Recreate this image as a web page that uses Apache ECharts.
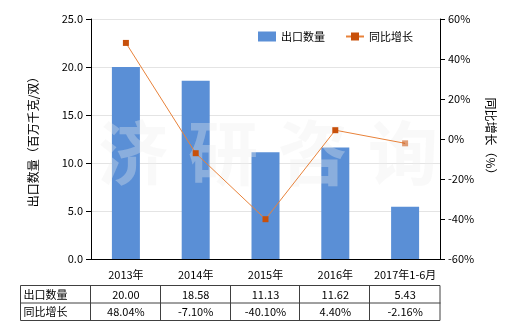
<!DOCTYPE html>
<html><head><meta charset="utf-8">
<script src="https://cdn.jsdelivr.net/npm/echarts@6/dist/echarts.min.js"></script>
<style>html,body{margin:0;padding:0;background:#fff}#c{width:520px;height:330px}</style>
</head><body><div id="c"></div>
<script>
var categories = ['2013年','2014年','2015年','2016年','2017年1-6月'];
var exportQty = [20.00, 18.58, 11.13, 11.62, 5.43];
var yoyGrowth = [48.04, -7.10, -40.10, 4.40, -2.16];
var qtyLabels = ['20.00','18.58','11.13','11.62','5.43'];
var yoyLabels = ['48.04%','-7.10%','-40.10%','4.40%','-2.16%'];
var seriesNames = ['出口数量','同比增长'];
var watermarkChars = ['济','研','咨','询'];

var FONT = '"Noto Sans CJK SC", sans-serif';
var gl = 91, gr = 440, gt = 19, gb = 259;
var chart = echarts.init(document.getElementById('c'), null, {renderer:'canvas'});

var graphics = [];
// watermark
watermarkChars.forEach(function(ch, i){
  graphics.push({type:'text', left:98 + i*90, top:118, z:5, silent:true,
    style:{text:ch, font:'bold 70px "Noto Sans CJK SC"', fill:'rgba(238,238,238,0.33)'}});
});
// table
var tTop = 285, rowH = 17.5, colW = (gr - gl) / categories.length;
var rows = [[seriesNames[0]].concat(qtyLabels), [seriesNames[1]].concat(yoyLabels)];
var lineStyle = {stroke:'#404040', lineWidth:1};
var tl = 20.5;
graphics.push({type:'rect', shape:{x:tl, y:tTop+0.5, width:gr-tl, height:rowH*2}, style:{fill:'none', stroke:'#404040', lineWidth:1}});
graphics.push({type:'line', shape:{x1:tl, y1:tTop+rowH+0.5, x2:gr+0.5, y2:tTop+rowH+0.5}, style:lineStyle});
for (var i = 0; i < categories.length; i++) {
  var x = Math.round(gl + i * colW) - 0.5;
  graphics.push({type:'line', shape:{x1:x, y1:tTop, x2:x, y2:tTop+rowH*2+0.5}, style:lineStyle});
}
rows.forEach(function(r, ri){
  var cy = tTop + rowH*ri + rowH/2 + 1;
  graphics.push({type:'text', x: tl + 3, y: cy, style:{text:r[0], font:'11px '+FONT, fill:'#000', verticalAlign:'middle', align:'left'}});
  for (var j = 1; j < r.length; j++) {
    graphics.push({type:'text', x: gl + (j-0.5)*colW, y: cy, style:{text:r[j], font:'11px '+FONT, fill:'#000', verticalAlign:'middle', align:'center'}});
  }
});

var option = {
  animation:false,
  textStyle:{fontFamily:FONT},
  grid:{left:gl, right:520-gr, top:gt, bottom:330-gb, containLabel:false},
  legend:{top:26, left:253, itemGap:20, itemWidth:18, itemHeight:10,
    textStyle:{fontSize:11, color:'#000', fontFamily:FONT},
    data:[{name:seriesNames[0], icon:'rect', itemStyle:{color:'#5a8fd6'}}, {name:seriesNames[1]}]},
  xAxis:{type:'category', data:categories,
    axisLine:{lineStyle:{color:'#000'}}, axisTick:{alignWithLabel:true, length:4, lineStyle:{color:'#000'}},
    axisLabel:{color:'#000', fontSize:11, margin:10, interval:0}},
  yAxis:[
    {type:'value', min:0, max:25, interval:5, name:'出口数量（百万千克/双）', nameLocation:'middle', nameGap:52, nameRotate:90,
     nameTextStyle:{fontSize:12, color:'#000'},
     axisLine:{show:true, lineStyle:{color:'#000'}}, axisTick:{show:true, length:5, lineStyle:{color:'#000'}},
     axisLabel:{color:'#000', fontSize:11, formatter:function(v){return v.toFixed(1);}},
     splitLine:{lineStyle:{color:'#e4e4e4'}}},
    {type:'value', min:-60, max:60, interval:20, position:'right', name:'同比增长（%）', nameLocation:'middle', nameGap:45, nameRotate:-90,
     nameTextStyle:{fontSize:12, color:'#000'},
     axisLine:{show:true, lineStyle:{color:'#000'}}, axisTick:{show:true, length:5, lineStyle:{color:'#000'}},
     axisLabel:{color:'#000', fontSize:11, formatter:'{value}%'}, splitLine:{show:false}}
  ],
  series:[
    {name:seriesNames[0], type:'bar', data:exportQty, barWidth:28, itemStyle:{color:'#5a8fd6'}, z:2},
    {name:seriesNames[1], type:'line', yAxisIndex:1, symbol:'rect', symbolSize:6,
     data:yoyGrowth.map(function(v,i){return i===yoyGrowth.length-1?{value:v, itemStyle:{opacity:0.55}}:v;}),
     lineStyle:{color:'#e8823a', width:1}, itemStyle:{color:'#c8500a'}, z:10}
  ],
  graphic:graphics
};
chart.setOption(option);
</script></body></html>
